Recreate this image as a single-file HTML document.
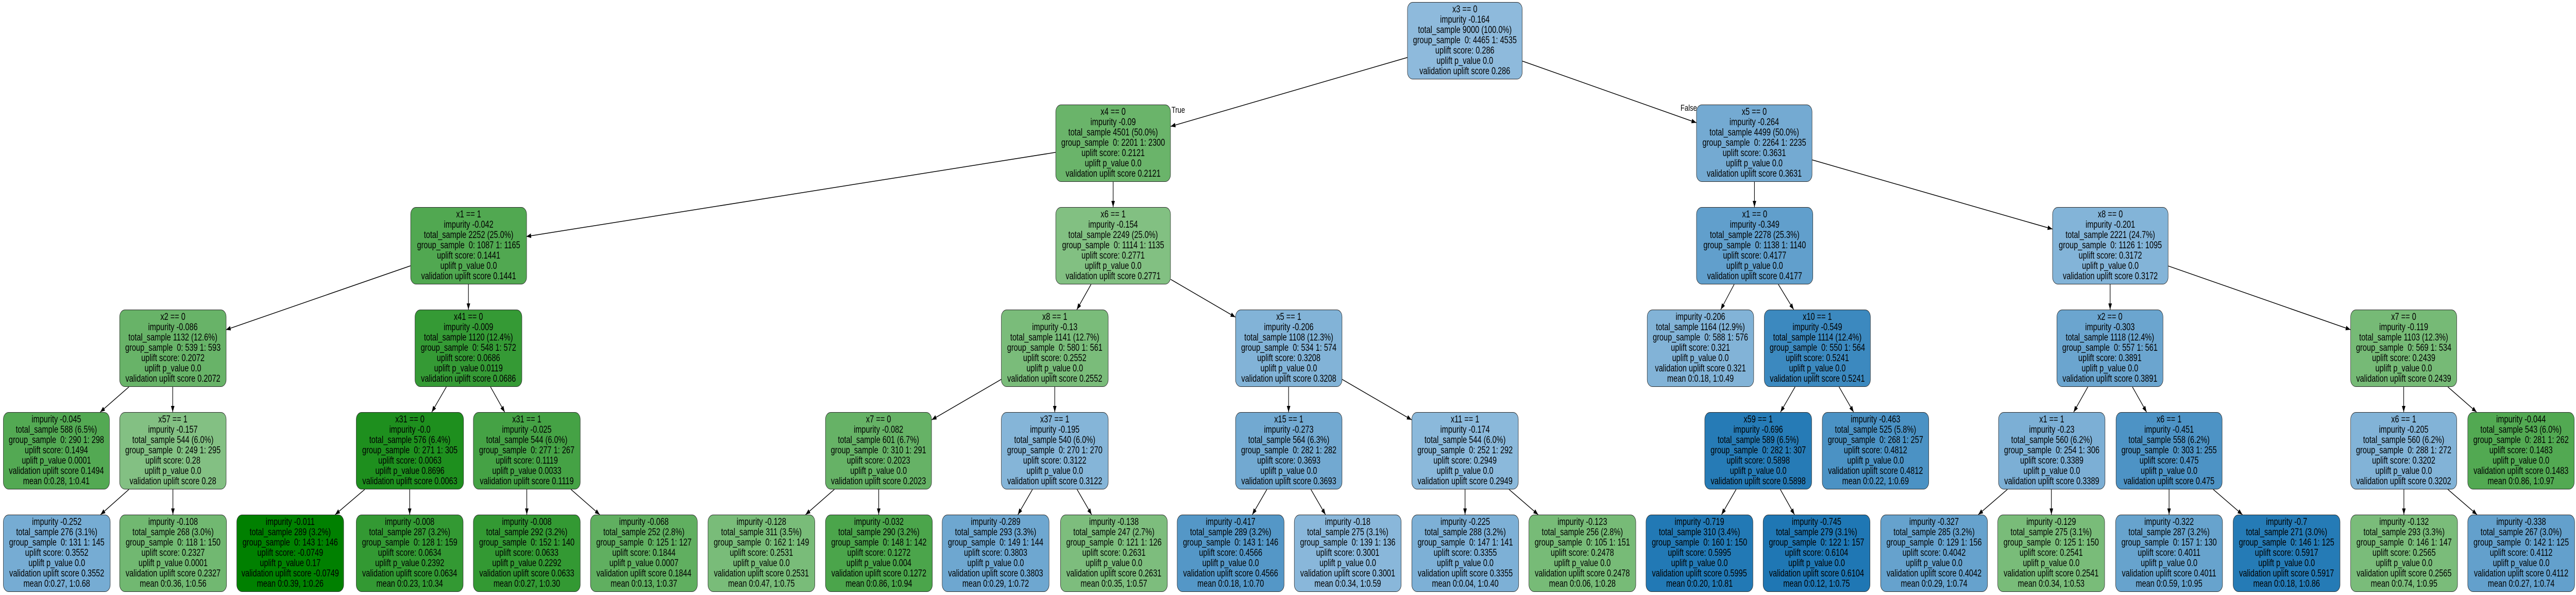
<!DOCTYPE html>
<html><head><meta charset="utf-8">
<style>
html,body{margin:0;padding:0;background:#fff;overflow:hidden;}
#w{position:absolute;left:0;top:0;width:6533px;height:1155px;overflow:hidden;transform-origin:0 0;font-family:"Liberation Sans",Arial,sans-serif;background:#fff;}
.n{position:absolute;height:150px;box-sizing:border-box;border:1.5px solid #2a2a2a;border-radius:14px;display:flex;align-items:center;justify-content:center;text-align:center;white-space:pre;font-size:19px;line-height:20px;color:#000;width:272px;overflow:hidden;}
svg{position:absolute;left:0;top:0;display:block;}
.lb{position:absolute;font-size:17px;line-height:17px;}
</style></head><body>
<div id="w">
<svg width="6533" height="1155" viewBox="0 0 6533 1155">
<defs><marker id="a" markerUnits="userSpaceOnUse" markerWidth="13" markerHeight="10" refX="12" refY="4.5" orient="auto"><path d="M0,0 L12,4.5 L0,9 z" fill="#000"/></marker></defs>
<g stroke="#000" stroke-width="1.5" fill="none" marker-end="url(#a)">
<line x1="3569" y1="111.6" x2="2969" y2="245.4"/>
<line x1="3861" y1="118.6" x2="4302" y2="238.1"/>
<line x1="2677" y1="295.8" x2="1335" y2="459.1"/>
<line x1="2823" y1="353" x2="2823" y2="402"/>
<line x1="4449.5" y1="353" x2="4449.5" y2="402"/>
<line x1="4596" y1="310.4" x2="5205" y2="444.6"/>
<line x1="1041" y1="516" x2="573" y2="640.2"/>
<line x1="1188" y1="552" x2="1188" y2="601"/>
<line x1="2767" y1="552" x2="2731" y2="601"/>
<line x1="2969" y1="542.3" x2="3133" y2="615.6"/>
<line x1="4398" y1="552" x2="4364" y2="601"/>
<line x1="4510" y1="552" x2="4549" y2="601"/>
<line x1="5351.5" y1="552" x2="5351.5" y2="601"/>
<line x1="5499" y1="516.3" x2="5961" y2="639.9"/>
<line x1="327" y1="751" x2="254" y2="800"/>
<line x1="438" y1="751" x2="438" y2="800"/>
<line x1="1132" y1="751" x2="1095" y2="800"/>
<line x1="1244" y1="751" x2="1280" y2="800"/>
<line x1="2540" y1="736.1" x2="2363" y2="814.9"/>
<line x1="2675" y1="751" x2="2675" y2="800"/>
<line x1="3268" y1="751" x2="3268" y2="800"/>
<line x1="3403" y1="736.1" x2="3580" y2="814.9"/>
<line x1="4552.5" y1="751" x2="4515.5" y2="800"/>
<line x1="4664" y1="751" x2="4701" y2="800"/>
<line x1="5295" y1="751" x2="5259" y2="800"/>
<line x1="5408" y1="751" x2="5444" y2="800"/>
<line x1="6096" y1="751" x2="6096" y2="800"/>
<line x1="6208" y1="751" x2="6281" y2="800"/>
<line x1="327" y1="950" x2="255" y2="999"/>
<line x1="438.5" y1="950" x2="438.5" y2="999"/>
<line x1="925" y1="950" x2="850" y2="999"/>
<line x1="1039" y1="950" x2="1039" y2="999"/>
<line x1="1336" y1="950" x2="1336" y2="999"/>
<line x1="1448" y1="950" x2="1521" y2="999"/>
<line x1="2116" y1="950" x2="2043" y2="999"/>
<line x1="2228.5" y1="950" x2="2228.5" y2="999"/>
<line x1="2618.5" y1="950" x2="2581.5" y2="999"/>
<line x1="2731.5" y1="950" x2="2768.5" y2="999"/>
<line x1="3213" y1="950" x2="3176" y2="999"/>
<line x1="3324.5" y1="950" x2="3361.5" y2="999"/>
<line x1="3715.5" y1="950" x2="3715.5" y2="999"/>
<line x1="3827" y1="950" x2="3901" y2="999"/>
<line x1="4403" y1="950" x2="4366" y2="999"/>
<line x1="4515" y1="950" x2="4551" y2="999"/>
<line x1="5091" y1="950" x2="5017" y2="999"/>
<line x1="5202.5" y1="950" x2="5202.5" y2="999"/>
<line x1="5501" y1="950" x2="5501" y2="999"/>
<line x1="5613" y1="950" x2="5687" y2="999"/>
<line x1="6096.5" y1="950" x2="6096.5" y2="999"/>
<line x1="6208" y1="950" x2="6282" y2="999"/>
</g>
</svg>
<div class="lb" style="left:2971px;top:205px;">True</div>
<div class="lb" style="left:4262px;top:201px;">False</div>

<div class="n" style="left:3569px;top:4px;width:292px;background:#8ebadc">x3 == 0
impurity -0.164
total_sample 9000 (100.0%)
group_sample  0: 4465 1: 4535
uplift score: 0.286
uplift p_value 0.0
validation uplift score 0.286</div>
<div class="n" style="left:2677px;top:203px;width:292px;background:#6ab46a">x4 == 0
impurity -0.09
total_sample 4501 (50.0%)
group_sample  0: 2201 1: 2300
uplift score: 0.2121
uplift p_value 0.0
validation uplift score 0.2121</div>
<div class="n" style="left:4302px;top:203px;width:294px;background:#74aad2">x5 == 0
impurity -0.264
total_sample 4499 (50.0%)
group_sample  0: 2264 1: 2235
uplift score: 0.3631
uplift p_value 0.0
validation uplift score 0.3631</div>
<div class="n" style="left:1041px;top:402px;width:295px;background:#51a851">x1 == 1
impurity -0.042
total_sample 2252 (25.0%)
group_sample  0: 1087 1: 1165
uplift score: 0.1441
uplift p_value 0.0
validation uplift score 0.1441</div>
<div class="n" style="left:2677px;top:402px;width:292px;background:#82c082">x6 == 1
impurity -0.154
total_sample 2249 (25.0%)
group_sample  0: 1114 1: 1135
uplift score: 0.2771
uplift p_value 0.0
validation uplift score 0.2771</div>
<div class="n" style="left:4302px;top:402px;width:296px;background:#619fcc">x1 == 0
impurity -0.349
total_sample 2278 (25.3%)
group_sample  0: 1138 1: 1140
uplift score: 0.4177
uplift p_value 0.0
validation uplift score 0.4177</div>
<div class="n" style="left:5205px;top:402px;width:294px;background:#83b4d8">x8 == 0
impurity -0.201
total_sample 2221 (24.7%)
group_sample  0: 1126 1: 1095
uplift score: 0.3172
uplift p_value 0.0
validation uplift score 0.3172</div>
<div class="n" style="left:303px;top:601px;width:271px;background:#68b368">x2 == 0
impurity -0.086
total_sample 1132 (12.6%)
group_sample  0: 539 1: 593
uplift score: 0.2072
uplift p_value 0.0
validation uplift score 0.2072</div>
<div class="n" style="left:1052px;top:601px;background:#359a35">x41 == 0
impurity -0.009
total_sample 1120 (12.4%)
group_sample  0: 548 1: 572
uplift score: 0.0686
uplift p_value 0.0119
validation uplift score 0.0686</div>
<div class="n" style="left:2539px;top:601px;background:#7abc7a">x8 == 1
impurity -0.13
total_sample 1141 (12.7%)
group_sample  0: 580 1: 561
uplift score: 0.2552
uplift p_value 0.0
validation uplift score 0.2552</div>
<div class="n" style="left:3133px;top:601px;width:271px;background:#82b3d7">x5 == 1
impurity -0.206
total_sample 1108 (12.3%)
group_sample  0: 534 1: 574
uplift score: 0.3208
uplift p_value 0.0
validation uplift score 0.3208</div>
<div class="n" style="left:4177px;top:601px;width:271px;background:#82b3d7">impurity -0.206
total_sample 1164 (12.9%)
group_sample  0: 588 1: 576
uplift score: 0.321
uplift p_value 0.0
validation uplift score 0.321
mean 0:0.18, 1:0.49</div>
<div class="n" style="left:4474px;top:601px;width:270px;background:#3c89bf">x10 == 1
impurity -0.549
total_sample 1114 (12.4%)
group_sample  0: 550 1: 564
uplift score: 0.5241
uplift p_value 0.0
validation uplift score 0.5241</div>
<div class="n" style="left:5216px;top:601px;width:270px;background:#6ba5cf">x2 == 0
impurity -0.303
total_sample 1118 (12.4%)
group_sample  0: 557 1: 561
uplift score: 0.3891
uplift p_value 0.0
validation uplift score 0.3891</div>
<div class="n" style="left:5961px;top:601px;width:270px;background:#76ba76">x7 == 0
impurity -0.119
total_sample 1103 (12.3%)
group_sample  0: 569 1: 534
uplift score: 0.2439
uplift p_value 0.0
validation uplift score 0.2439</div>
<div class="n" style="left:8px;top:800px;width:270px;background:#53a953">impurity -0.045
total_sample 588 (6.5%)
group_sample  0: 290 1: 298
uplift score: 0.1494
uplift p_value 0.0001
validation uplift score 0.1494
mean 0:0.28, 1:0.41</div>
<div class="n" style="left:303px;top:800px;width:271px;background:#83c083">x57 == 1
impurity -0.157
total_sample 544 (6.0%)
group_sample  0: 249 1: 295
uplift score: 0.28
uplift p_value 0.0
validation uplift score 0.28</div>
<div class="n" style="left:903px;top:800px;width:273px;background:#1e8f1e">x31 == 0
impurity -0.0
total_sample 576 (6.4%)
group_sample  0: 271 1: 305
uplift score: 0.0063
uplift p_value 0.8696
validation uplift score 0.0063</div>
<div class="n" style="left:1200px;top:800px;background:#45a245">x31 == 1
impurity -0.025
total_sample 544 (6.0%)
group_sample  0: 277 1: 267
uplift score: 0.1119
uplift p_value 0.0033
validation uplift score 0.1119</div>
<div class="n" style="left:2093px;top:800px;width:270px;background:#66b266">x7 == 0
impurity -0.082
total_sample 601 (6.7%)
group_sample  0: 310 1: 291
uplift score: 0.2023
uplift p_value 0.0
validation uplift score 0.2023</div>
<div class="n" style="left:2539px;top:800px;background:#85b5d8">x37 == 1
impurity -0.195
total_sample 540 (6.0%)
group_sample  0: 270 1: 270
uplift score: 0.3122
uplift p_value 0.0
validation uplift score 0.3122</div>
<div class="n" style="left:3133px;top:800px;width:271px;background:#72a9d1">x15 == 1
impurity -0.273
total_sample 564 (6.3%)
group_sample  0: 282 1: 282
uplift score: 0.3693
uplift p_value 0.0
validation uplift score 0.3693</div>
<div class="n" style="left:3580px;top:800px;width:271px;background:#8bb9db">x11 == 1
impurity -0.174
total_sample 544 (6.0%)
group_sample  0: 252 1: 292
uplift score: 0.2949
uplift p_value 0.0
validation uplift score 0.2949</div>
<div class="n" style="left:4323px;top:800px;background:#267bb6">x59 == 1
impurity -0.696
total_sample 589 (6.5%)
group_sample  0: 282 1: 307
uplift score: 0.5898
uplift p_value 0.0
validation uplift score 0.5898</div>
<div class="n" style="left:4621px;top:800px;width:271px;background:#4b92c4">impurity -0.463
total_sample 525 (5.8%)
group_sample  0: 268 1: 257
uplift score: 0.4812
uplift p_value 0.0
validation uplift score 0.4812
mean 0:0.22, 1:0.69</div>
<div class="n" style="left:5068px;top:800px;width:271px;background:#7cafd5">x1 == 1
impurity -0.23
total_sample 560 (6.2%)
group_sample  0: 254 1: 306
uplift score: 0.3389
uplift p_value 0.0
validation uplift score 0.3389</div>
<div class="n" style="left:5366px;top:800px;width:270px;background:#4d93c5">x6 == 1
impurity -0.451
total_sample 558 (6.2%)
group_sample  0: 303 1: 255
uplift score: 0.475
uplift p_value 0.0
validation uplift score 0.475</div>
<div class="n" style="left:5961px;top:800px;width:270px;background:#82b3d7">x6 == 1
impurity -0.205
total_sample 560 (6.2%)
group_sample  0: 288 1: 272
uplift score: 0.3202
uplift p_value 0.0
validation uplift score 0.3202</div>
<div class="n" style="left:6258px;top:800px;width:271px;background:#52a952">impurity -0.044
total_sample 543 (6.0%)
group_sample  0: 281 1: 262
uplift score: 0.1483
uplift p_value 0.0
validation uplift score 0.1483
mean 0:0.86, 1:0.97</div>
<div class="n" style="left:8px;top:999px;background:#76acd3">impurity -0.252
total_sample 276 (3.1%)
group_sample  0: 131 1: 145
uplift score: 0.3552
uplift p_value 0.0
validation uplift score 0.3552
mean 0:0.27, 1:0.68</div>
<div class="n" style="left:303px;top:999px;background:#71b871">impurity -0.108
total_sample 268 (3.0%)
group_sample  0: 118 1: 150
uplift score: 0.2327
uplift p_value 0.0001
validation uplift score 0.2327
mean 0:0.36, 1:0.56</div>
<div class="n" style="left:600px;top:999px;background:#008000">impurity -0.011
total_sample 289 (3.2%)
group_sample  0: 143 1: 146
uplift score: -0.0749
uplift p_value 0.17
validation uplift score -0.0749
mean 0:0.39, 1:0.26</div>
<div class="n" style="left:903px;top:999px;background:#339933">impurity -0.008
total_sample 287 (3.2%)
group_sample  0: 128 1: 159
uplift score: 0.0634
uplift p_value 0.2392
validation uplift score 0.0634
mean 0:0.23, 1:0.34</div>
<div class="n" style="left:1200px;top:999px;background:#339933">impurity -0.008
total_sample 292 (3.2%)
group_sample  0: 152 1: 140
uplift score: 0.0633
uplift p_value 0.2292
validation uplift score 0.0633
mean 0:0.27, 1:0.30</div>
<div class="n" style="left:1497px;top:999px;background:#60af60">impurity -0.068
total_sample 252 (2.8%)
group_sample  0: 125 1: 127
uplift score: 0.1844
uplift p_value 0.0007
validation uplift score 0.1844
mean 0:0.13, 1:0.37</div>
<div class="n" style="left:1795px;top:999px;background:#79bc79">impurity -0.128
total_sample 311 (3.5%)
group_sample  0: 162 1: 149
uplift score: 0.2531
uplift p_value 0.0
validation uplift score 0.2531
mean 0:0.47, 1:0.75</div>
<div class="n" style="left:2093px;top:999px;background:#4ba54b">impurity -0.032
total_sample 290 (3.2%)
group_sample  0: 148 1: 142
uplift score: 0.1272
uplift p_value 0.004
validation uplift score 0.1272
mean 0:0.86, 1:0.94</div>
<div class="n" style="left:2389px;top:999px;background:#6ea7d0">impurity -0.289
total_sample 293 (3.3%)
group_sample  0: 149 1: 144
uplift score: 0.3803
uplift p_value 0.0
validation uplift score 0.3803
mean 0:0.29, 1:0.72</div>
<div class="n" style="left:2689px;top:999px;background:#7dbd7d">impurity -0.138
total_sample 247 (2.7%)
group_sample  0: 121 1: 126
uplift score: 0.2631
uplift p_value 0.0
validation uplift score 0.2631
mean 0:0.35, 1:0.57</div>
<div class="n" style="left:2985px;top:999px;background:#5497c7">impurity -0.417
total_sample 289 (3.2%)
group_sample  0: 143 1: 146
uplift score: 0.4566
uplift p_value 0.0
validation uplift score 0.4566
mean 0:0.18, 1:0.70</div>
<div class="n" style="left:3282px;top:999px;background:#89b7da">impurity -0.18
total_sample 275 (3.1%)
group_sample  0: 139 1: 136
uplift score: 0.3001
uplift p_value 0.0
validation uplift score 0.3001
mean 0:0.34, 1:0.59</div>
<div class="n" style="left:3580px;top:999px;background:#7db0d6">impurity -0.225
total_sample 288 (3.2%)
group_sample  0: 147 1: 141
uplift score: 0.3355
uplift p_value 0.0
validation uplift score 0.3355
mean 0:0.04, 1:0.40</div>
<div class="n" style="left:3877px;top:999px;background:#77bb77">impurity -0.123
total_sample 256 (2.8%)
group_sample  0: 105 1: 151
uplift score: 0.2478
uplift p_value 0.0
validation uplift score 0.2478
mean 0:0.06, 1:0.28</div>
<div class="n" style="left:4174px;top:999px;background:#2279b5">impurity -0.719
total_sample 310 (3.4%)
group_sample  0: 160 1: 150
uplift score: 0.5995
uplift p_value 0.0
validation uplift score 0.5995
mean 0:0.20, 1:0.81</div>
<div class="n" style="left:4471px;top:999px;background:#1f77b4">impurity -0.745
total_sample 279 (3.1%)
group_sample  0: 122 1: 157
uplift score: 0.6104
uplift p_value 0.0
validation uplift score 0.6104
mean 0:0.12, 1:0.75</div>
<div class="n" style="left:4769px;top:999px;background:#66a2cd">impurity -0.327
total_sample 285 (3.2%)
group_sample  0: 129 1: 156
uplift score: 0.4042
uplift p_value 0.0
validation uplift score 0.4042
mean 0:0.29, 1:0.74</div>
<div class="n" style="left:5066px;top:999px;background:#79bc79">impurity -0.129
total_sample 275 (3.1%)
group_sample  0: 125 1: 150
uplift score: 0.2541
uplift p_value 0.0
validation uplift score 0.2541
mean 0:0.34, 1:0.53</div>
<div class="n" style="left:5365px;top:999px;background:#67a3cd">impurity -0.322
total_sample 287 (3.2%)
group_sample  0: 157 1: 130
uplift score: 0.4011
uplift p_value 0.0
validation uplift score 0.4011
mean 0:0.59, 1:0.95</div>
<div class="n" style="left:5663px;top:999px;background:#257bb6">impurity -0.7
total_sample 271 (3.0%)
group_sample  0: 146 1: 125
uplift score: 0.5917
uplift p_value 0.0
validation uplift score 0.5917
mean 0:0.18, 1:0.86</div>
<div class="n" style="left:5961px;top:999px;background:#7abc7a">impurity -0.132
total_sample 293 (3.3%)
group_sample  0: 146 1: 147
uplift score: 0.2565
uplift p_value 0.0
validation uplift score 0.2565
mean 0:0.74, 1:0.95</div>
<div class="n" style="left:6258px;top:999px;background:#63a0cc">impurity -0.338
total_sample 267 (3.0%)
group_sample  0: 142 1: 125
uplift score: 0.4112
uplift p_value 0.0
validation uplift score 0.4112
mean 0:0.27, 1:0.74</div>
</div>
<script>
(function(){var w=document.getElementById('w');function f(){var sx=window.innerWidth/6533,sy=window.innerHeight/1155;if(!sx||!sy)return;if(Math.abs(sx-1)<0.001&&Math.abs(sy-1)<0.001){w.style.transform='none';}else{w.style.transform='scale('+sx+','+sy+')';}}f();window.addEventListener('resize',f);})();
</script>
</body></html>
